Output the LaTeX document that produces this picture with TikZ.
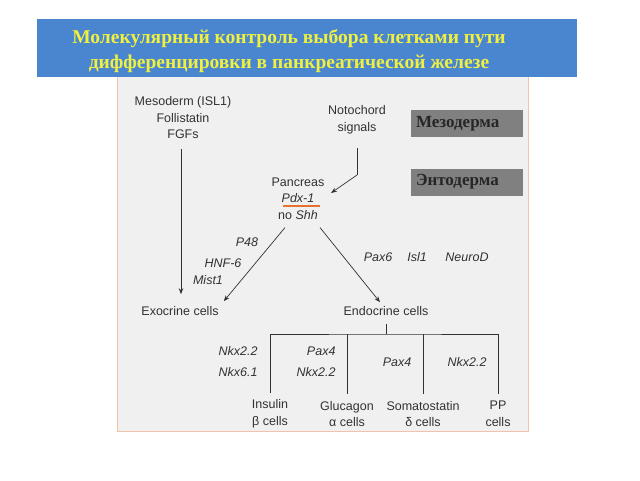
\documentclass[tikz,border=0pt]{standalone}
\usepackage{fontspec}
\setmainfont{Liberation Serif}
\newfontfamily\labelfont{Liberation Sans}
\usetikzlibrary{arrows.meta}
\definecolor{headblue}{RGB}{74,134,208}
\definecolor{headyellow}{RGB}{240,240,64}
\definecolor{panelgray}{RGB}{240,240,240}
\definecolor{panelrim}{RGB}{240,196,170}
\definecolor{inkgray}{RGB}{50,50,50}
\definecolor{boxgray}{RGB}{128,128,128}
\definecolor{pdxorange}{RGB}{232,112,48}

\begin{document}
\begin{tikzpicture}[x=1pt,y=-1pt]
		\tikzstyle{lbl}=[text=inkgray,font=\labelfont\fontsize{12.5}{16.5}\selectfont,align=center,inner sep=2pt]
		\tikzstyle{gene}=[text=inkgray,font=\labelfont\itshape\fontsize{12.5}{21}\selectfont,inner sep=2pt]
		\tikzstyle{germ}=[fill=boxgray,minimum width=112pt,minimum height=27pt,text width=102pt,align=left,text=black!85,font=\bfseries\fontsize{17}{19}\selectfont]
		\tikzstyle{link}=[draw=inkgray,line width=0.7pt,-{Stealth[length=6pt,width=4.5pt]}]
		\tikzstyle{tree}=[draw=inkgray,line width=0.7pt]

		\useasboundingbox (0,0) rectangle (640,480);

		% panel and title bar
		\draw[fill=panelgray,draw=panelrim,line width=1pt] (117,70) rectangle (528,431);
		\fill[headblue] (37,19) rectangle (577,77);
		\node[text=headyellow,font=\bfseries\fontsize{19.5}{25}\selectfont,align=center] (title) at (289,51) {Молекулярный контроль выбора клетками пути\\дифференцировки в панкреатической железе};

		% germ layers
		\node[germ] (meso) at (467,123.5) {Мезодерма};
		\node[germ] (endo) at (467,182) {Энтодерма};

		% signals and pancreas
		\node[lbl] (mesoderm) at (183,118) {Mesoderm (ISL1)\\Follistatin\\FGFs};
		\node[lbl] (noto) at (357,120) {Notochord\\signals};
		\node[lbl] (panc) at (298,198.5) {Pancreas\\\textit{Pdx-1}\\no \textit{Shh}};
		\draw[pdxorange,line width=2pt] (283,206) -- (320,206);

		\coordinate (nbend) at (357,175);
		\coordinate (ntip) at (331,193);
		\draw[tree] (noto.south) ++(0,12) -- (nbend);
		\draw[link] (nbend) -- (ntip);

		% cell types
		\node[lbl] (exo) at (180,311) {Exocrine cells};
		\node[lbl] (endc) at (386,311) {Endocrine cells};

		\draw[link] ([xshift=-2pt,yshift=-8pt]mesoderm.south) -- ([xshift=1pt,yshift=10pt]exo.north);
		\draw[link] ([xshift=-13pt,yshift=-6pt]panc.south) -- ([xshift=3pt,yshift=3pt]exo.north east);
		\draw[link] ([xshift=22pt,yshift=-6pt]panc.south) -- ([xshift=-6pt,yshift=2pt]endc.north);

		\node[gene] (p48) at (247,242) {P48};
		\node[gene] (hnf) at (223,263) {HNF-6};
		\node[gene] (mist) at (208,280) {Mist1};
		\node[gene] (pax6) at (378,257) {Pax6};
		\node[gene] (isl) at (417,257) {Isl1};
		\node[gene] (neuro) at (467,257) {NeuroD};

		% endocrine lineages
		\node[lbl] (ins) at (270,414) {Insulin\\β cells};
		\node[lbl] (glu) at (347,414) {Glucagon\\α cells};
		\node[lbl] (som) at (423,414) {Somatostatin\\δ cells};
		\node[lbl] (pp) at (498,414) {PP\\cells};

		\coordinate (split) at (386,334);
		\draw[tree] ([yshift=-6pt]endc.south) -- (split);
		\draw[tree] ([yshift=5pt]ins.north) |- (split) -| ([yshift=5pt]pp.north);
		\draw[tree] ([yshift=5pt]glu.north) -- (glu.north |- split);
		\draw[tree] ([yshift=5pt]som.north) -- (som.north |- split);

		\node[gene,align=center] (beta) at (238,361.5) {Nkx2.2\\Nkx6.1};
		\node[gene,align=right] (alpha) at (316,361.5) {Pax4\\Nkx2.2};
		\node[gene] (delta) at (397,362) {Pax4};
		\node[gene] (ppg) at (467,362) {Nkx2.2};
\end{tikzpicture}
\end{document}
